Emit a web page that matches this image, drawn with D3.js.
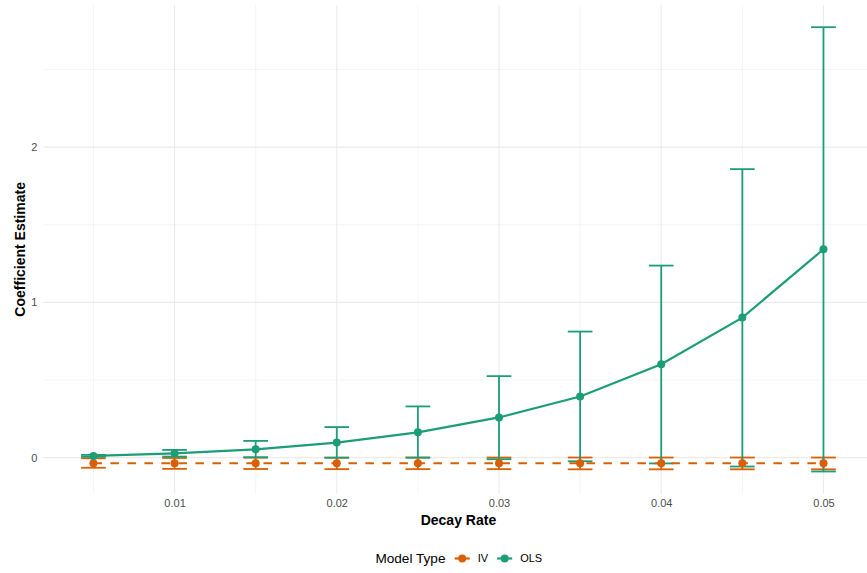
<!DOCTYPE html>
<html>
<head>
<meta charset="utf-8">
<script src="https://cdn.jsdelivr.net/npm/d3@7"></script>
<style>
  html, body { margin: 0; padding: 0; background: #fff; }
  svg { display: block; font-family: "Liberation Sans", Arial, Helvetica, sans-serif; }
</style>
</head>
<body>
<svg id="chart" width="867" height="573"></svg>
<script>
// ---- data ----
const decayRates = [0.005, 0.01, 0.015, 0.02, 0.025, 0.03, 0.035, 0.04, 0.045, 0.05];
const olsEstimate = [0.011, 0.028, 0.054, 0.097, 0.163, 0.259, 0.394, 0.602, 0.902, 1.342];
const olsLower    = [0.006, 0.007, 0.003, 0.0, 0.0, -0.01, -0.023, -0.037, -0.057, -0.089];
const olsUpper    = [0.018, 0.05, 0.108, 0.197, 0.33, 0.525, 0.812, 1.237, 1.858, 2.772];
const ivEstimate  = [-0.036, -0.036, -0.036, -0.036, -0.036, -0.036, -0.036, -0.036, -0.036, -0.036];
const ivLower     = [-0.065, -0.072, -0.073, -0.074, -0.074, -0.074, -0.075, -0.075, -0.075, -0.075];
const ivUpper     = [-0.004, -0.002, 0.0, 0.0, 0.001, 0.001, 0.001, 0.001, 0.001, 0.001];
const xTickValues = [0.01, 0.02, 0.03, 0.04, 0.05];
const xMinorValues = [0.005, 0.015, 0.025, 0.035, 0.045];
const yTickValues = [0, 1, 2];
const yMinorValues = [0.5, 1.5, 2.5];
const modelTypes = ["IV", "OLS"];
const modelColors = ["#D95F02", "#1B9E77"];

const series = [
  { name: modelTypes[0], color: modelColors[0], dash: "8.5,8.5",
    pts: decayRates.map((d, i) => ({ x: d, y: ivEstimate[i], lo: ivLower[i], hi: ivUpper[i] })) },
  { name: modelTypes[1], color: modelColors[1], dash: null,
    pts: decayRates.map((d, i) => ({ x: d, y: olsEstimate[i], lo: olsLower[i], hi: olsUpper[i] })) }
];

// ---- layout ----
const svg = d3.select("#chart");
const panel = { left: 43.3, right: 873.6, top: 5, bottom: 493.7 };
const capHalf = 0.00076;
const pointR = 4;

const x = d3.scaleLinear().domain([0.00191, 0.05309]).range([panel.left, panel.right]);
const y = d3.scaleLinear().domain([-0.232, 2.915]).range([panel.bottom, panel.top]);

const grid = svg.append("g");
grid.selectAll(".xminor").data(xMinorValues).join("line")
  .attr("x1", d => x(d)).attr("x2", d => x(d))
  .attr("y1", panel.top).attr("y2", panel.bottom)
  .attr("stroke", "#EBEBEB").attr("stroke-width", 0.55);
grid.selectAll(".yminor").data(yMinorValues).join("line")
  .attr("y1", d => y(d)).attr("y2", d => y(d))
  .attr("x1", panel.left).attr("x2", panel.right)
  .attr("stroke", "#EBEBEB").attr("stroke-width", 0.55);
grid.selectAll(".xmajor").data(xTickValues).join("line")
  .attr("x1", d => x(d)).attr("x2", d => x(d))
  .attr("y1", panel.top).attr("y2", panel.bottom)
  .attr("stroke", "#EBEBEB").attr("stroke-width", 1.1);
grid.selectAll(".ymajor").data(yTickValues).join("line")
  .attr("y1", d => y(d)).attr("y2", d => y(d))
  .attr("x1", panel.left).attr("x2", panel.right)
  .attr("stroke", "#EBEBEB").attr("stroke-width", 1.1);

// axes
const xAxis = svg.append("g").attr("transform", `translate(0,${panel.bottom})`)
  .call(d3.axisBottom(x).tickValues(xTickValues).tickSize(0).tickPadding(5.5).tickFormat(d3.format(".2f")));
const yAxis = svg.append("g").attr("transform", `translate(${panel.left},0)`)
  .call(d3.axisLeft(y).tickValues(yTickValues).tickSize(0).tickPadding(6).tickFormat(d3.format("d")));
[xAxis, yAxis].forEach(a => {
  a.select(".domain").remove();
  a.selectAll("text").attr("fill", "#4D4D4D").style("font-size", "11px")
    .style("font-family", '"Liberation Sans", Arial, sans-serif');
});

// errorbars
series.forEach(s => {
  const g = svg.append("g").attr("stroke", s.color).attr("stroke-width", 1.8).attr("fill", "none");
  g.selectAll(".v").data(s.pts).join("line")
    .attr("x1", d => x(d.x)).attr("x2", d => x(d.x))
    .attr("y1", d => y(d.lo)).attr("y2", d => y(d.hi));
  g.selectAll(".top").data(s.pts).join("line")
    .attr("x1", d => x(d.x - capHalf)).attr("x2", d => x(d.x + capHalf))
    .attr("y1", d => y(d.hi)).attr("y2", d => y(d.hi));
  g.selectAll(".bot").data(s.pts).join("line")
    .attr("x1", d => x(d.x - capHalf)).attr("x2", d => x(d.x + capHalf))
    .attr("y1", d => y(d.lo)).attr("y2", d => y(d.lo));
});

// lines
const lineGen = d3.line().x(d => x(d.x)).y(d => y(d.y));
series.forEach(s => {
  svg.append("path").datum(s.pts)
    .attr("d", lineGen).attr("fill", "none")
    .attr("stroke", s.color).attr("stroke-width", 2.2)
    .attr("stroke-dasharray", s.dash);
});

// points
series.forEach(s => {
  svg.append("g").selectAll("circle").data(s.pts).join("circle")
    .attr("cx", d => x(d.x)).attr("cy", d => y(d.y)).attr("r", pointR)
    .attr("fill", s.color);
});

// axis titles
svg.append("text").attr("x", (panel.left + panel.right) / 2 - 0).attr("y", 525)
  .attr("text-anchor", "middle").style("font-size", "14px").style("font-weight", "bold")
  .attr("fill", "#000").text("Decay Rate");
svg.append("text").attr("transform", `translate(25,${(panel.top + panel.bottom) / 2}) rotate(-90)`)
  .attr("text-anchor", "middle").style("font-size", "14px").style("font-weight", "bold")
  .attr("fill", "#000").text("Coefficient Estimate");

// legend
const legend = svg.append("g");
const ly = 558.5;
let cx = 0;
const title = legend.append("text").attr("x", cx).attr("y", ly).attr("dy", "0.35em")
  .style("font-size", "13.6px").attr("fill", "#000").text("Model Type");
cx += title.node().getComputedTextLength() + 9.3;
series.forEach((s, i) => {
  legend.append("line").attr("x1", cx).attr("x2", cx + 15).attr("y1", ly).attr("y2", ly)
    .attr("stroke", s.color).attr("stroke-width", 2.2);
  legend.append("circle").attr("cx", cx + 7.5).attr("cy", ly).attr("r", pointR).attr("fill", s.color);
  cx += 15 + 8;
  const t = legend.append("text").attr("x", cx).attr("y", ly).attr("dy", "0.35em")
    .style("font-size", "11px").attr("fill", "#000").text(s.name);
  cx += t.node().getComputedTextLength();
  if (i < series.length - 1) cx += 9;
});
const legendCenter = 458.8;
legend.attr("transform", `translate(${legendCenter - cx / 2},0)`);
</script>
</body>
</html>
